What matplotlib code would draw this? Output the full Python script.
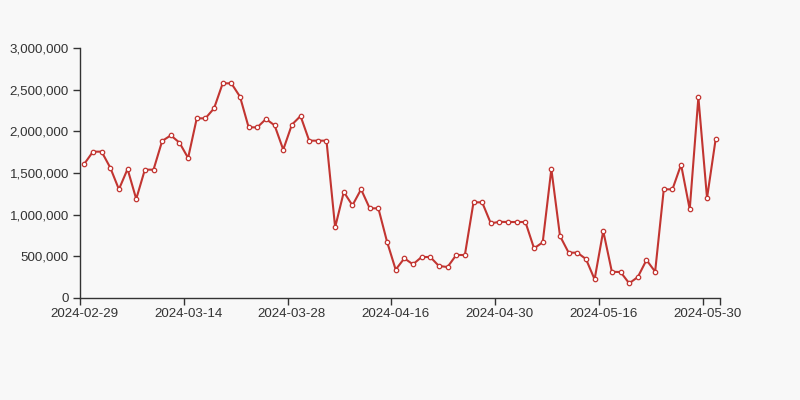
import matplotlib
matplotlib.use("Agg")
import matplotlib.pyplot as plt
from matplotlib.ticker import FuncFormatter, FixedLocator

# daily values, 74 categories (2024-02-29 .. 2024-05-31)
values = [
    1610000, 1756000, 1756000, 1564000, 1304000, 1548000, 1188000, 1540000,
    1540000, 1884000, 1952000, 1864000, 1680000, 2156000, 2156000, 2276000,
    2576000, 2576000, 2416000, 2048000, 2048000, 2148000, 2072000, 1780000,
    2080000, 2184000, 1888000, 1888000, 1888000, 848000, 1272000, 1112000,
    1304000, 1076000, 1076000, 676000, 340000, 476000, 404000, 492000,
    492000, 384000, 372000, 516000, 516000, 1148000, 1148000, 896000,
    914000, 912000, 912000, 912000, 596000, 668000, 1548000, 744000,
    544000, 544000, 468000, 224000, 804000, 314000, 312000, 176000,
    252000, 456000, 316000, 1304000, 1304000, 1600000, 1064000, 2408000,
    1200000, 1908000,
]
label_idx = [0, 12, 24, 36, 48, 60, 72]
tick_labels = ["2024-02-29", "2024-03-14", "2024-03-28", "2024-04-16",
               "2024-04-30", "2024-05-16", "2024-05-30"]
y_ticks = [0, 500000, 1000000, 1500000, 2000000, 2500000, 3000000]

plt.rcParams['font.family'] = ['Liberation Sans', 'DejaVu Sans']
bg = "#f8f8f8"
fig = plt.figure(figsize=(8, 4), dpi=100, facecolor=bg)
ax = fig.add_axes([0.1, 0.255, 0.8, 0.625])
ax.set_facecolor(bg)

n = len(values)
xs = list(range(n))
ax.plot(xs, values, color="#c23531", linewidth=1.5, marker="o", markersize=3.2,
        markerfacecolor="white", markeredgecolor="#c23531", markeredgewidth=0.9,
        zorder=3, clip_on=False)

ax.set_xlim(-0.5, n - 0.5)
ax.set_ylim(0, 3000000)

# ticks on category boundaries, labels on category centres
bounds = [i - 0.5 for i in label_idx] + [n - 0.5]
ax.xaxis.set_major_locator(FixedLocator(bounds))
ax.xaxis.set_minor_locator(FixedLocator(label_idx))
ax.xaxis.set_major_formatter(FuncFormatter(lambda v, p: ""))
ax.set_xticklabels(tick_labels, minor=True)
ax.tick_params(axis="x", which="major", length=5, width=1, color="#333333")
ax.tick_params(axis="x", which="minor", length=0, pad=7, labelsize=9.6,
               labelcolor="#333333")

ax.set_yticks(y_ticks)
ax.yaxis.set_major_formatter(FuncFormatter(lambda v, p: f"{int(v):,}"))
ax.tick_params(axis="y", length=5, width=1, color="#333333", pad=3,
               labelsize=9.6, labelcolor="#333333")

for side in ["top", "right"]:
    ax.spines[side].set_visible(False)
for side in ["left", "bottom"]:
    ax.spines[side].set_color("#333333")
    ax.spines[side].set_linewidth(1)

fig.savefig("out.png", dpi=100, facecolor=bg)
